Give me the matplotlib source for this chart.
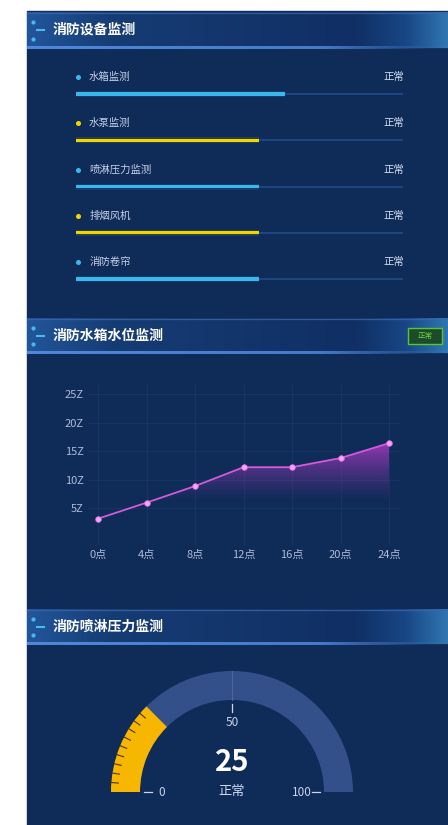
import numpy as np
import matplotlib
matplotlib.use("Agg")
import matplotlib.pyplot as plt
from matplotlib.patches import Rectangle, Wedge, Polygon
from matplotlib.colors import to_rgb

plt.rcParams['font.family'] = ['Noto Sans CJK SC', 'DejaVu Sans']

# ---------------- data ----------------
device_names = ['水箱监测', '水泵监测', '喷淋压力监测', '排烟风机', '消防卷帘']
device_status = ['正常', '正常', '正常', '正常', '正常']
device_levels = [64, 56, 56, 56, 56]
device_colors = ['#3ab8ee', '#f2d600', '#3ab8ee', '#f2d600', '#3ab8ee']

hours = [0, 4, 8, 12, 16, 20, 24]
hour_labels = ['0点', '4点', '8点', '12点', '16点', '20点', '24点']
water_level = [3.2, 6.0, 8.9, 12.2, 12.2, 13.8, 16.4]
level_ticks = [5, 10, 15, 20, 25]
level_tick_labels = ['5Z', '10Z', '15Z', '20Z', '25Z']

pressure = 25
pressure_max = 100
pressure_ticks = [0, 50, 100]
pressure_status = '正常'

section_titles = ['消防设备监测', '消防水箱水位监测', '消防喷淋压力监测']

# ---------------- canvas ----------------
W, H = 448, 825
BODY = '#0f2b58'
fig = plt.figure(figsize=(W / 100, H / 100), dpi=100)
fig.patch.set_facecolor('white')


def px_axes(x0, y0, x1, y1):
    ax = fig.add_axes([x0 / W, 1 - y1 / H, (x1 - x0) / W, (y1 - y0) / H])
    ax.patch.set_alpha(0)
    return ax


bg = fig.add_axes([0, 0, 1, 1])
bg.axis('off')
bg.add_patch(Rectangle((27, 11), W - 27, H - 11, color=BODY, zorder=0))


def header(y0, y1, title):
    xs = np.linspace(0, 1, 420)
    stops = [(0.0, (34, 86, 155)), (0.2, (22, 60, 116)), (0.78, (16, 47, 100)),
             (0.9, (24, 70, 132)), (1.0, (48, 118, 178))]
    cols = np.array([np.interp(xs, [s[0] for s in stops], [s[1][k] for s in stops])
                     for k in range(3)]).T / 255
    bg.imshow(cols[None, :, :], extent=(27, W, y1, y0), aspect='auto',
              interpolation='bilinear', zorder=1)
    # bottom glow line fading to the right
    rgba = np.zeros((1, 420, 4))
    rgba[..., :3] = to_rgb('#4f88dc')
    rgba[..., 3] = np.interp(xs, [0, 0.7, 0.95, 1], [1, 0.85, 0.1, 0.1])
    bg.imshow(rgba, extent=(27, W, y1 + 1.2, y1 - 1.2), aspect='auto',
              interpolation='bilinear', zorder=2)
    bg.plot([27, W], [y0 + 0.5, y0 + 0.5], color='#3a66ad', lw=0.9, alpha=0.8, zorder=2)
    # left ornament
    bg.plot([33, 33], [y0 + 10, y1 - 9], 'o', ms=2.0, color='#4cb8f2', zorder=3)
    bg.plot([37, 44], [(y0 + y1) / 2] * 2, color='#4cb8f2', lw=1.5, zorder=3)
    bg.text(53, (y0 + y1) / 2, title, color='white', fontsize=10, fontweight='bold',
            va='center', ha='left', zorder=3)


header(12, 48, section_titles[0])
header(318, 353, section_titles[1])
header(609, 644, section_titles[2])

# status badge of the water level panel
bg.add_patch(Rectangle((408, 328), 34, 16, facecolor='#1e4a2c', edgecolor='#54c82c',
                       lw=1.0, zorder=3))
bg.text(425, 336, '正常', color='#66d23a', fontsize=5.5, ha='center', va='center', zorder=4)

bg.set_xlim(0, W)
bg.set_ylim(H, 0)

# ---------------- device monitoring bars ----------------
bx0, bx1 = 76, 403           # pixel span of 0..100
row0, row_gap = 94, 46.25     # pixel row positions
ax_l, ax_r, ax_t, ax_b = 60, 420, 60, 300
ax1 = px_axes(ax_l, ax_t, ax_r, ax_b)
ppu = (bx1 - bx0) / 100
ax1.set_xlim(-(bx0 - ax_l) / ppu, 100 + (ax_r - bx1) / ppu)
ax1.set_ylim(len(device_names) - 1 + (ax_b - (row0 + row_gap * (len(device_names) - 1))) / row_gap,
             -(row0 - ax_t) / row_gap)
ax1.axis('off')
rows = np.arange(len(device_names))
ax1.barh(rows, [100] * len(rows), height=2.0 / row_gap, color='#1b4583', zorder=1)
ax1.barh(rows, device_levels, height=6.0 / row_gap, color=device_colors, alpha=0.12, zorder=2)
ax1.barh(rows, device_levels, height=3.4 / row_gap, color=device_colors, zorder=3)
lab_off = 17 / row_gap
for i, (name, st, c) in enumerate(zip(device_names, device_status, device_colors)):
    ax1.plot(0.6, i - lab_off, 'o', ms=2.6, color=c, zorder=4)
    ax1.text(4.0, i - lab_off, name, color='#c6d2e8', fontsize=7.5, va='center', ha='left')
    ax1.text(100.3, i - lab_off, st, color='#d4def0', fontsize=7.5, va='center', ha='right')

# ---------------- water level line chart ----------------
cx0, cx1, cy0, cy1 = 88, 400, 385, 545
ax2 = px_axes(cx0, cy0, cx1, cy1)
xppu = (389 - 98) / 24
yppu = (537 - 394) / 25
xlim = (-(98 - cx0) / xppu, 24 + (cx1 - 389) / xppu)
ylim = (-(cy1 - 537) / yppu, 25 + (394 - cy0) / yppu)

ymax = max(water_level)
verts = list(zip(hours, water_level)) + [(hours[-1], 0), (hours[0], 0)]
poly = Polygon(verts, closed=True, facecolor='none', edgecolor='none')
ax2.add_patch(poly)
yy = np.linspace(0, ymax, 256)
grad = np.zeros((256, 1, 4))
grad[..., :3] = to_rgb('#b03cc6')
grad[:, 0, 3] = np.clip((yy - 6.0) / (ymax - 6.0), 0, 1) ** 1.3 * 0.8
im = ax2.imshow(grad, extent=(hours[0], hours[-1], 0, ymax), origin='lower',
                aspect='auto', interpolation='bilinear', zorder=1)
im.set_clip_path(poly)

ax2.plot(hours, water_level, color='#d35ad9', lw=1.3, zorder=3)
ax2.plot(hours, water_level, 'o', ms=4, color='#f6a8f4', mec='#e070e6', mew=0.6, zorder=4)

ax2.set_xlim(*xlim)
ax2.set_ylim(*ylim)
ax2.set_xticks(hours)
ax2.set_xticklabels(hour_labels)
ax2.set_yticks(level_ticks)
ax2.set_yticklabels(level_tick_labels)
ax2.tick_params(length=0, labelsize=8, colors='#aebcd8', pad=3.5)
ax2.tick_params(axis='y', pad=3)
for s in ax2.spines.values():
    s.set_visible(False)
ax2.grid(True, color='#3a5c92', lw=0.6, alpha=0.2)
ax2.set_axisbelow(True)

# ---------------- pressure gauge ----------------
gcx, gcy = 232, 792
ax3 = px_axes(gcx - 132, gcy - 132, gcx + 132, gcy + 18)
ax3.set_xlim(-132, 132)
ax3.set_ylim(-18, 132)
ax3.axis('off')
r_out, ring = 121, 29
ax3.add_patch(Wedge((0, 0), r_out, 0, 180, width=ring, facecolor='#33508a', edgecolor='none'))
val_angle = 180 - pressure / pressure_max * 180
ax3.add_patch(Wedge((0, 0), r_out, val_angle, 180, width=ring, facecolor='#f7b600',
                    edgecolor='none', zorder=2))

# thin divider on the ring at mid-scale
a = np.pi / 2
ax3.plot([(r_out - ring) * np.cos(a), r_out * np.cos(a)],
         [(r_out - ring) * np.sin(a), r_out * np.sin(a)], color='#4a67a2', lw=0.8, zorder=1)

# minor ticks along the filled part
for v in np.arange(2.5, pressure, 2.5):
    a = np.pi * (1 - v / pressure_max)
    ax3.plot([114 * np.cos(a), r_out * np.cos(a)], [114 * np.sin(a), r_out * np.sin(a)],
             color='#4a3500', lw=0.8, zorder=3)

# major ticks and labels
for v in pressure_ticks:
    a = np.pi * (1 - v / pressure_max)
    ax3.plot([80 * np.cos(a), 88 * np.cos(a)], [80 * np.sin(a), 88 * np.sin(a)],
             color='#c8d4ea', lw=0.9)
    ax3.text(70 * np.cos(a), 70 * np.sin(a), str(v), color='#c8d4ea', fontsize=8.5,
             ha='center', va='center')

ax3.text(0, 30, str(pressure), color='white', fontsize=21, ha='center', va='center',
         fontweight='semibold')
ax3.text(0, 0, pressure_status, color='#d0dcf0', fontsize=9.5, ha='center', va='center')

fig.savefig('out.png', dpi=100, facecolor=fig.get_facecolor())
